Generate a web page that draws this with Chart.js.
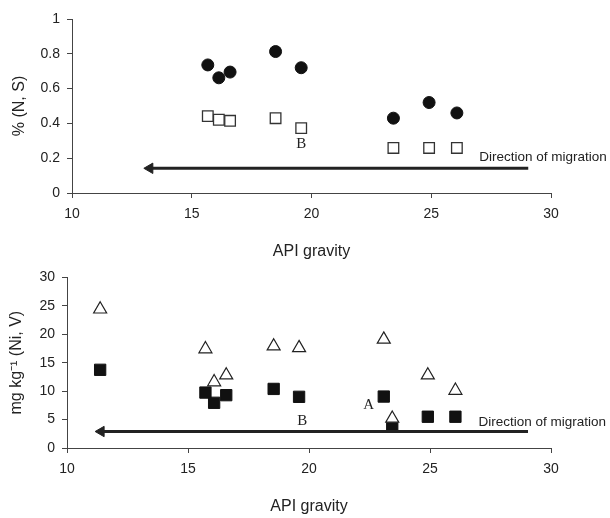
<!DOCTYPE html>
<html lang="en">
<head>
    <meta charset="UTF-8">
    <title>API gravity vs N, S, Ni, V</title>
    <script src="https://cdn.jsdelivr.net/npm/chart.js"></script>
    <style>
        * { margin: 0; padding: 0; box-sizing: border-box; }
        body { background: white; width: 610px; height: 518px; position: relative; overflow: hidden; }
        .box { position: absolute; left: 0; width: 610px; }
        #topBox { top: 0; height: 262px; }
        #bottomBox { top: 262px; height: 256px; }
    </style>
</head>
<body>
    <div class="box" id="topBox"><canvas id="topChart"></canvas></div>
    <div class="box" id="bottomBox"><canvas id="bottomChart"></canvas></div>

    <script>
        // top panel: % (N, S)
        const topApi = [15.67, 16.13, 16.6, 18.5, 19.57, 23.42, 24.91, 26.07];
        const topCircles = [0.736, 0.662, 0.695, 0.813, 0.72, 0.43, 0.52, 0.46];
        const topSquares = [0.442, 0.421, 0.415, 0.43, 0.373, 0.259, 0.259, 0.259];
        const topArrowX = [29.05, 13.3];
        const topArrowY = 0.142;
        const topArrowHeadX = 13.25;
        const topNotes = [
            { text: "Direction of migration", x: 27.0, y: 0.207, serif: false },
            { text: "B", x: 19.57, y: 0.28, serif: true }
        ];

        // bottom panel: mg kg-1 (Ni, V)
        const bottomApi = [11.37, 15.72, 16.08, 16.58, 18.54, 19.59, 23.09, 23.44, 24.91, 26.05];
        const bottomTriangles = [24.4, 17.4, 11.6, 12.8, 17.9, 17.6, 19.1, 5.2, 12.8, 10.1];
        const bottomSquares = [13.75, 9.75, 7.95, 9.29, 10.39, 9.0, 9.05, 3.77, 5.5, 5.5];
        const bottomArrowX = [29.05, 11.45];
        const bottomArrowY = 2.9;
        const bottomArrowHeadX = 11.41;
        const bottomNotes = [
            { text: "Direction of migration", x: 27.0, y: 4.5, serif: false },
            { text: "B", x: 19.72, y: 4.76, serif: true },
            { text: "A", x: 22.47, y: 7.54, serif: true }
        ];

        const xTicks = [10, 15, 20, 25, 30];

        const sans = "'Liberation Sans', Arial, sans-serif";
        const serif = "'Liberation Serif', 'Times New Roman', serif";
        const ink = "#222";

        function pairs(xs, ys) {
            return xs.map((x, i) => ({ x: x, y: ys[i] }));
        }

        // writes the small text notes at data positions
        const notesPlugin = {
            id: "notes",
            afterDatasetsDraw(chart, args, opts) {
                const ctx = chart.ctx;
                const xs = chart.scales.x, ys = chart.scales.y;
                ctx.save();
                ctx.fillStyle = ink;
                ctx.textBaseline = "middle";
                opts.items.forEach(n => {
                    ctx.font = n.serif ? "15px " + serif : "13.5px " + sans;
                    ctx.textAlign = n.serif ? "center" : "left";
                    ctx.fillText(n.text, xs.getPixelForValue(n.x), ys.getPixelForValue(n.y));
                });
                ctx.restore();
            }
        };

        function makeChart(id, p) {
            const ctx = document.getElementById(id).getContext("2d");
            return new Chart(ctx, {
                type: "scatter",
                data: {
                    datasets: [
                        {
                            data: pairs(p.arrowX, p.arrowX.map(() => p.arrowY)),
                            showLine: true,
                            borderColor: ink,
                            borderWidth: 3,
                            pointRadius: 0
                        },
                        {
                            data: [{ x: p.headX, y: p.arrowY }],
                            pointStyle: "triangle",
                            rotation: -90,
                            pointRadius: 6,
                            backgroundColor: ink,
                            borderColor: ink,
                            borderWidth: 1
                        },
                        p.setA,
                        p.setB
                    ]
                },
                options: {
                    responsive: true,
                    maintainAspectRatio: false,
                    animation: false,
                    layout: { padding: p.padding },
                    plugins: {
                        legend: { display: false },
                        tooltip: { enabled: false },
                        notes: { items: p.notes }
                    },
                    scales: {
                        x: {
                            type: "linear",
                            min: 10,
                            max: 30,
                            afterBuildTicks: s => { s.ticks = xTicks.map(v => ({ value: v })); },
                            afterFit: s => { s.height = p.xHeight; },
                            grid: { drawOnChartArea: false, tickLength: 5, color: "#444" },
                            border: { color: "#444", width: 1 },
                            ticks: { color: ink, padding: 8, font: { family: sans, size: 14 } },
                            title: {
                                display: true,
                                text: "API gravity",
                                color: ink,
                                font: { family: sans, size: 16, lineHeight: 1.2 },
                                padding: { top: 0, bottom: p.xTitlePad }
                            }
                        },
                        y: {
                            type: "linear",
                            min: p.yMin,
                            max: p.yMax,
                            afterFit: s => { s.width = p.yWidth; },
                            grid: { drawOnChartArea: false, tickLength: 5, color: "#444" },
                            border: { color: "#444", width: 1 },
                            ticks: {
                                color: ink,
                                padding: 7,
                                stepSize: p.yStep,
                                font: { family: sans, size: 14 },
                                callback: v => String(Number(v.toFixed(1)))
                            },
                            title: {
                                display: true,
                                text: p.yTitle,
                                color: ink,
                                font: { family: sans, size: 16, lineHeight: 1.2 },
                                padding: { top: p.yTitlePad, bottom: 0 }
                            }
                        }
                    }
                },
                plugins: [notesPlugin]
            });
        }

        makeChart("topChart", {
            arrowX: topArrowX, arrowY: topArrowY, headX: topArrowHeadX,
            notes: topNotes,
            yMin: 0, yMax: 1, yStep: 0.2,
            yTitle: "% (N, S)",
            padding: { top: 19, right: 59, left: 0, bottom: 0 },
            xHeight: 69, yWidth: 72, xTitlePad: 1, yTitlePad: 10,
            setA: {
                data: pairs(topApi, topCircles),
                pointStyle: "circle",
                pointRadius: 6,
                backgroundColor: "#111",
                borderColor: "#111",
                borderWidth: 1
            },
            setB: {
                data: pairs(topApi, topSquares),
                pointStyle: "rect",
                pointRadius: 7.5,
                backgroundColor: "white",
                borderColor: "#333",
                borderWidth: 1.3
            }
        });

        makeChart("bottomChart", {
            arrowX: bottomArrowX, arrowY: bottomArrowY, headX: bottomArrowHeadX,
            notes: bottomNotes,
            yMin: 0, yMax: 30, yStep: 5,
            yTitle: "mg kg⁻¹ (Ni, V)",
            padding: { top: 12, right: 59, left: 0, bottom: 0 },
            xHeight: 70, yWidth: 67, xTitlePad: 2, yTitlePad: 7,
            setA: {
                data: pairs(bottomApi, bottomTriangles),
                pointStyle: "triangle",
                pointRadius: 7.5,
                backgroundColor: "white",
                borderColor: "#222",
                borderWidth: 1.2
            },
            setB: {
                data: pairs(bottomApi, bottomSquares),
                pointStyle: "rect",
                pointRadius: 8,
                backgroundColor: "#111",
                borderColor: "#111",
                borderWidth: 1
            }
        });
    </script>
</body>
</html>
